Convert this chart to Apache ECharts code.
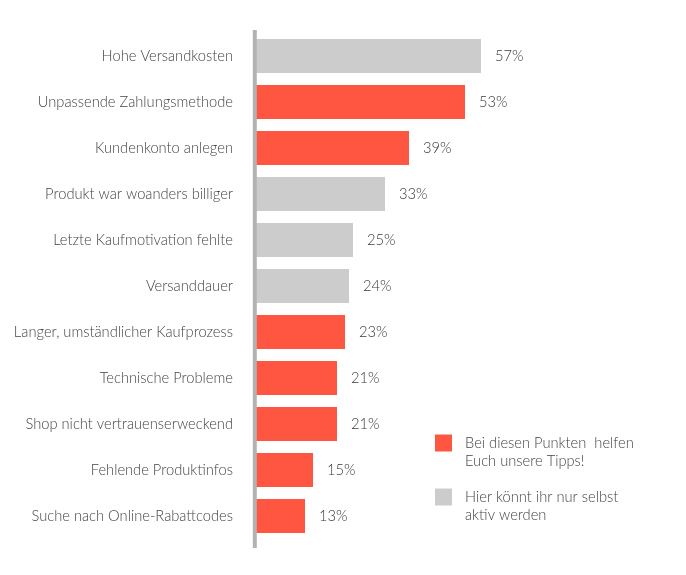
<!DOCTYPE html>
<html><head><meta charset="utf-8">
<script src="https://cdn.jsdelivr.net/npm/echarts@6/dist/echarts.min.js"></script>
<style>html,body{margin:0;padding:0;background:#fff}#c{width:686px;height:575px}</style>
</head><body><div id="c"></div>
<script>
const categories = ["Hohe Versandkosten","Unpassende Zahlungsmethode","Kundenkonto anlegen","Produkt war woanders billiger","Letzte Kaufmotivation fehlte","Versanddauer","Langer, umständlicher Kaufprozess","Technische Probleme","Shop nicht vertrauenserweckend","Fehlende Produktinfos","Suche nach Online-Rabattcodes"];
const values = [57,53,39,33,25,24,23,21,21,15,13];
const helpful = [false,true,true,false,false,false,true,true,true,true,true];
const legendNames = ["Bei diesen Punkten  helfen\nEuch unsere Tipps!","Hier könnt ihr nur selbst\naktiv werden"];

const RED = '#ff5641', GRAY = '#cccccc';
const FONT = 'Lato';
const FS = 14.7;
const redData = values.map((v,i)=>helpful[i]?v:null);
const grayData = values.map((v,i)=>helpful[i]?null:v);
const lbl = {show:true, position:'right', distance:14, formatter:'{c}%', color:'#3a3a3a', fontSize:FS, fontFamily:FONT, fontWeight:300};

const chart = echarts.init(document.getElementById('c'));
chart.setOption({
  animation:false,
  textStyle:{fontFamily:FONT},
  grid:{left:253, right:33, top:33, height:506, containLabel:false},
  xAxis:{type:'value', min:0, max:100, show:false},
  yAxis:{type:'category', data:categories, inverse:true,
    axisLine:{show:false}, axisTick:{show:false},
    axisLabel:{color:'#444', fontSize:FS, fontFamily:FONT, fontWeight:300, margin:20}},
  legend:{orient:'vertical', left:435, top:416, padding:0, itemWidth:17, itemHeight:17, itemGap:0,
    icon:'rect', selectedMode:false,
    formatter: name => '{t| }\n' + name.split('\n').map(l=>'{t|'+l+'}').join('\n'),
    textStyle:{color:'#444', fontSize:FS, fontFamily:FONT, fontWeight:300, lineHeight:18,
      rich:{t:{color:'#444', fontSize:FS, fontFamily:FONT, fontWeight:300, lineHeight:18, padding:[0,0,0,8]}}},
    data:legendNames},
  graphic:[{type:'line', z:100, shape:{x1:254.8,y1:30,x2:254.8,y2:548}, style:{stroke:'#b3b3b3', lineWidth:4}}],
  series:[
    {name:legendNames[0], type:'bar', data:redData, barWidth:34, barGap:'-100%', itemStyle:{color:RED}, label:lbl},
    {name:legendNames[1], type:'bar', data:grayData, barWidth:34, itemStyle:{color:GRAY}, label:lbl}
  ]
});
</script></body></html>
